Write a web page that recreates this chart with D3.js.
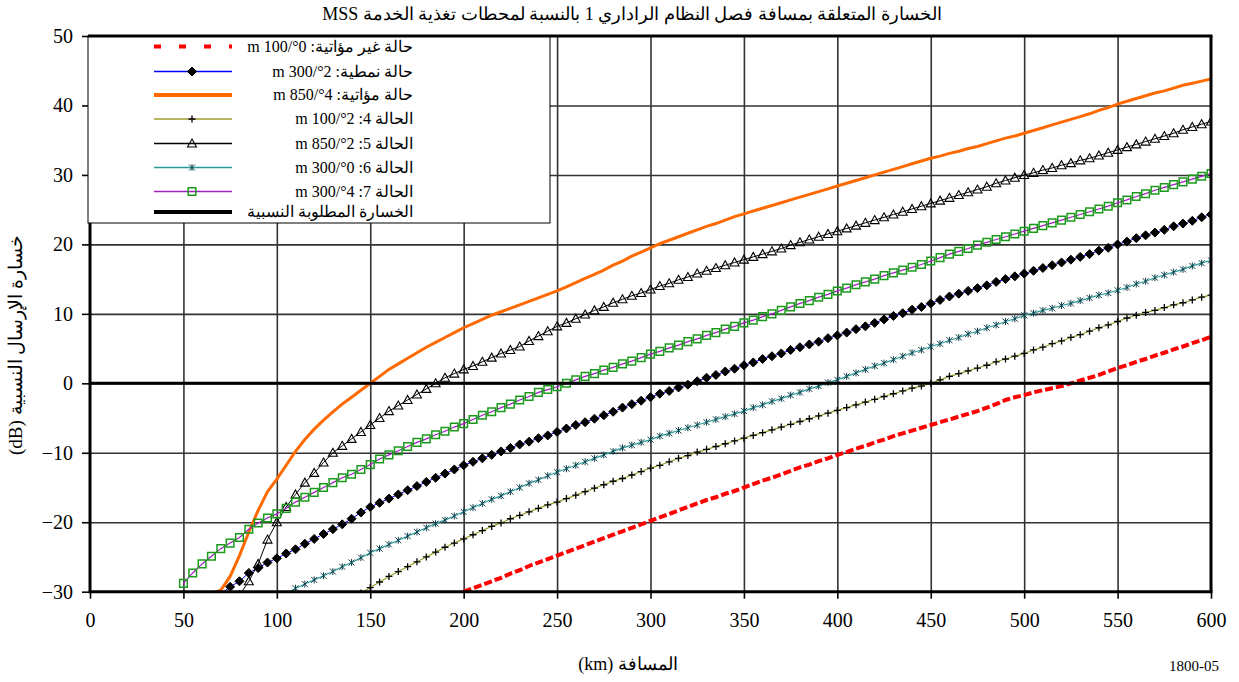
<!DOCTYPE html>
<html>
<head>
<meta charset="utf-8">
<script src="https://cdn.jsdelivr.net/npm/d3@7"></script>
<style>
  body { margin: 0; background: #fff; }
  svg { display: block; font-family: "Liberation Serif", "DejaVu Serif", serif; }
</style>
</head>
<body>
<svg></svg>
<script>
const width = 1239
const height = 682
const svg = d3.select('svg')
  .attr('width', width)
  .attr('height', height)

// distance axis samples (km)
const distanceKm = [
  50, 55, 60, 65, 70, 75, 80, 85, 90, 95,
  100, 105, 110, 115, 120, 125, 130, 135, 140, 145,
  150, 155, 160, 165, 170, 175, 180, 185, 190, 195,
  200, 205, 210, 215, 220, 225, 230, 235, 240, 245,
  250, 255, 260, 265, 270, 275, 280, 285, 290, 295,
  300, 305, 310, 315, 320, 325, 330, 335, 340, 345,
  350, 355, 360, 365, 370, 375, 380, 385, 390, 395,
  400, 405, 410, 415, 420, 425, 430, 435, 440, 445,
  450, 455, 460, 465, 470, 475, 480, 485, 490, 495,
  500, 505, 510, 515, 520, 525, 530, 535, 540, 545,
  550, 555, 560, 565, 570, 575, 580, 585, 590, 595,
  600
]

function lead(n, vals) { return new Array(n).fill(null).concat(vals) }

// relative loss (dB), one value per distance sample, null before the curve starts
const case1 = lead(30, [  // 0°/100 m, unfavourable
  -30.0, -29.5, -29.0, -28.5, -28.0, -27.4, -26.9, -26.3, -25.8, -25.3,
  -24.8, -24.3, -23.8, -23.3, -22.8, -22.3, -21.8, -21.3, -20.8, -20.3,
  -19.8, -19.3, -18.8, -18.3, -17.8, -17.3, -16.8, -16.4, -15.9, -15.5,
  -15.0, -14.5, -14.0, -13.6, -13.1, -12.6, -12.1, -11.7, -11.2, -10.8,
  -10.3, -9.9, -9.4, -9.0, -8.5, -8.1, -7.6, -7.2, -6.8, -6.4,
  -6.0, -5.6, -5.2, -4.8, -4.4, -4.0, -3.5, -3.0, -2.4, -2.0,
  -1.7, -1.3, -1.0, -0.7, -0.4, 0.0, 0.4, 0.8, 1.2, 1.7,
  2.2, 2.6, 3.1, 3.5, 4.0, 4.4, 4.9, 5.3, 5.8, 6.2,
  6.7])
const case2 = lead(4, [  // 2°/300 m, typical
  -30.3, -29.3, -28.5, -27.3, -26.6, -25.8,
  -25.2, -24.5, -23.9, -23.1, -22.4, -21.7, -21.0, -20.3, -19.5, -18.6,
  -17.8, -17.2, -16.6, -16.0, -15.4, -14.8, -14.2, -13.6, -13.0, -12.4,
  -11.8, -11.3, -10.8, -10.3, -9.8, -9.3, -8.8, -8.4, -7.9, -7.5,
  -7.0, -6.5, -6.0, -5.6, -5.1, -4.6, -4.1, -3.5, -3.0, -2.5,
  -2.0, -1.5, -1.1, -0.6, -0.2, 0.3, 0.8, 1.2, 1.7, 2.1,
  2.6, 3.0, 3.5, 3.9, 4.3, 4.8, 5.2, 5.6, 6.0, 6.5,
  6.9, 7.3, 7.8, 8.2, 8.7, 9.2, 9.7, 10.1, 10.6, 11.0,
  11.5, 12.0, 12.5, 12.9, 13.3, 13.7, 14.1, 14.6, 15.0, 15.4,
  15.8, 16.2, 16.6, 17.0, 17.4, 17.8, 18.2, 18.6, 19.1, 19.5,
  20.0, 20.4, 20.9, 21.3, 21.7, 22.1, 22.6, 23.0, 23.4, 23.9,
  24.3])
const case3 = lead(3, [  // 4°/850 m, favourable
  -30.2, -29.8, -27.8, -24.8, -21.4, -18.3, -15.6,
  -13.8, -11.8, -9.8, -8.1, -6.6, -5.3, -4.1, -3.0, -2.0, -1.0,
  0.0, 1.0, 2.0, 2.8, 3.6, 4.4, 5.2, 5.9, 6.6, 7.3,
  8.0, 8.6, 9.2, 9.8, 10.3, 10.8, 11.3, 11.8, 12.3, 12.8,
  13.3, 13.9, 14.5, 15.1, 15.7, 16.3, 17.0, 17.6, 18.3, 18.9,
  19.5, 20.1, 20.6, 21.1, 21.6, 22.1, 22.6, 23.0, 23.5, 24.0,
  24.4, 24.8, 25.2, 25.6, 26.0, 26.4, 26.8, 27.2, 27.6, 28.0,
  28.4, 28.8, 29.2, 29.6, 30.0, 30.4, 30.8, 31.2, 31.6, 32.0,
  32.4, 32.7, 33.1, 33.4, 33.8, 34.1, 34.5, 34.9, 35.3, 35.6,
  36.0, 36.4, 36.8, 37.2, 37.6, 38.0, 38.4, 38.8, 39.3, 39.7,
  40.2, 40.6, 41.0, 41.4, 41.8, 42.1, 42.5, 42.9, 43.2, 43.5,
  43.8])
const case4 = lead(19, [  // 2°/100 m
  -30.2,
  -29.4, -28.6, -27.8, -27.1, -26.4, -25.7, -25.0, -24.3, -23.6, -23.0,
  -22.4, -21.8, -21.2, -20.6, -20.1, -19.5, -19.0, -18.5, -18.0, -17.5,
  -17.1, -16.6, -16.1, -15.6, -15.1, -14.6, -14.1, -13.7, -13.2, -12.7,
  -12.2, -11.8, -11.3, -10.8, -10.4, -9.9, -9.5, -9.1, -8.7, -8.3,
  -7.9, -7.5, -7.1, -6.7, -6.3, -5.9, -5.5, -5.1, -4.7, -4.3,
  -3.9, -3.5, -3.1, -2.7, -2.3, -1.9, -1.5, -1.1, -0.7, -0.4,
  0.0, 0.5, 1.0, 1.4, 1.8, 2.2, 2.6, 3.1, 3.5, 3.9,
  4.3, 4.8, 5.2, 5.7, 6.1, 6.6, 7.0, 7.5, 8.0, 8.4,
  8.9, 9.4, 9.8, 10.2, 10.5, 10.9, 11.3, 11.6, 12.0, 12.4,
  12.7])
const case5 = lead(6, [  // 2°/850 m
  -30.5, -28.5, -26.0, -22.5,
  -20.0, -17.8, -16.0, -14.3, -12.9, -11.4, -10.0, -9.0, -8.0, -7.0,
  -6.0, -5.0, -4.0, -3.2, -2.4, -1.6, -0.8, 0.0, 0.8, 1.4,
  2.0, 2.5, 3.1, 3.7, 4.3, 4.8, 5.3, 6.1, 6.8, 7.5,
  8.2, 8.7, 9.3, 9.9, 10.5, 11.0, 11.6, 12.1, 12.6, 13.0,
  13.5, 14.0, 14.4, 14.9, 15.3, 15.8, 16.2, 16.6, 17.0, 17.4,
  17.8, 18.2, 18.6, 19.0, 19.4, 19.9, 20.3, 20.7, 21.1, 21.5,
  21.9, 22.3, 22.7, 23.1, 23.5, 23.9, 24.3, 24.7, 25.1, 25.5,
  25.9, 26.3, 26.7, 27.1, 27.5, 27.9, 28.3, 28.8, 29.2, 29.6,
  30.0, 30.3, 30.7, 31.0, 31.4, 31.7, 32.1, 32.4, 32.8, 33.2,
  33.6, 34.0, 34.4, 34.8, 35.2, 35.6, 36.0, 36.5, 36.9, 37.3,
  37.7])
const case6 = lead(11, [  // 0°/300 m
  -30.3, -29.5, -28.9, -28.3, -27.7, -27.1, -26.4, -25.8, -25.1,
  -24.4, -23.8, -23.2, -22.6, -22.0, -21.4, -20.8, -20.2, -19.7, -19.1,
  -18.5, -17.9, -17.3, -16.7, -16.2, -15.6, -15.0, -14.4, -13.9, -13.3,
  -12.8, -12.3, -11.8, -11.3, -10.8, -10.3, -9.8, -9.3, -8.9, -8.5,
  -8.1, -7.6, -7.2, -6.8, -6.4, -6.0, -5.6, -5.2, -4.8, -4.4,
  -4.0, -3.5, -3.1, -2.6, -2.2, -1.7, -1.3, -0.8, -0.4, 0.1,
  0.5, 1.0, 1.5, 2.0, 2.5, 2.9, 3.4, 3.9, 4.4, 4.8,
  5.3, 5.7, 6.2, 6.6, 7.1, 7.5, 8.0, 8.4, 8.9, 9.3,
  9.8, 10.1, 10.5, 10.8, 11.2, 11.5, 11.9, 12.3, 12.7, 13.0,
  13.4, 13.8, 14.3, 14.7, 15.2, 15.6, 16.0, 16.4, 16.9, 17.3,
  17.7])
const case7 = [  // 4°/300 m
  -28.8, -27.3, -26.0, -24.9, -23.8, -23.0, -22.2, -21.0, -20.1, -19.4,
  -18.8, -18.0, -17.1, -16.4, -15.7, -15.0, -14.3, -13.6, -13.1, -12.4,
  -11.7, -10.9, -10.3, -9.7, -9.1, -8.5, -8.0, -7.4, -6.9, -6.3,
  -5.8, -5.2, -4.6, -4.1, -3.5, -3.0, -2.4, -1.9, -1.3, -0.9,
  -0.5, 0.0, 0.5, 1.0, 1.4, 1.9, 2.3, 2.8, 3.2, 3.7,
  4.2, 4.6, 5.1, 5.5, 6.0, 6.4, 6.9, 7.3, 7.8, 8.2,
  8.7, 9.1, 9.6, 10.0, 10.5, 11.0, 11.5, 11.9, 12.4, 12.8,
  13.3, 13.7, 14.2, 14.6, 15.0, 15.5, 15.9, 16.3, 16.7, 17.1,
  17.6, 18.1, 18.6, 19.0, 19.4, 19.9, 20.3, 20.7, 21.1, 21.5,
  21.9, 22.3, 22.7, 23.1, 23.5, 23.9, 24.3, 24.7, 25.1, 25.5,
  26.0, 26.4, 26.9, 27.3, 27.8, 28.2, 28.6, 29.0, 29.4, 29.8,
  30.2]

// required relative loss: flat at 0 dB
const requiredKm = [0, 600]
const requiredDb = [0, 0]

const xTicks = [0, 50, 100, 150, 200, 250, 300, 350, 400, 450, 500, 550, 600]
const yTicks = [-30, -20, -10, 0, 10, 20, 30, 40, 50]

const legendLabels = [
  'حالة غير مؤاتية: 0°/100 m',
  'حالة نمطية: 2°/300 m',
  'حالة مؤاتية: 4°/850 m',
  'الحالة 4: 2°/100 m',
  'الحالة 5: 2°/850 m',
  'الحالة 6: 0°/300 m',
  'الحالة 7: 4°/300 m',
  'الخسارة المطلوبة النسبية'
]

// plot box ("top" is taken by window.top, so use other names)
var pLeft = 90, pRight = 1211, pTop = 36, pBottom = 591.7

var x = d3.scaleLinear().domain([0, 600]).range([pLeft, pRight])
var y = d3.scaleLinear().domain([-30, 50]).range([pBottom, pTop])

var markerPaths = {
  diamond: 'M0,-4.5L4.5,0L0,4.5L-4.5,0Z',
  plus: 'M-3.5,0H3.5M0,-3.5V3.5',
  triangle: 'M0,-4.5L4.5,3.5H-4.5Z',
  star: 'M-3,-3L3,3M-3,3L3,-3M0,-3.5V3.5',
  square: 'M-3.8,-3.8H3.8V3.8H-3.8Z'
}

var series = [
  {values: case1, color: '#ff0000', width: 4, dash: '8,3', marker: null},
  {values: case2, color: '#0000ff', width: 1, dash: null, marker: 'diamond', mFill: '#000', mStroke: '#000', mWidth: 1},
  {values: case3, color: '#ff6a00', width: 3, dash: null, marker: null},
  {values: case4, color: '#9c9c2e', width: 1.2, dash: null, marker: 'plus', mFill: 'none', mStroke: '#000', mWidth: 1.3},
  {values: case5, color: '#000', width: 1, dash: null, marker: 'triangle', mFill: 'none', mStroke: '#000', mWidth: 1.1},
  {values: case6, color: '#2a9a9a', width: 1.2, dash: null, marker: 'star', mFill: 'none', mStroke: '#0e3f4a', mWidth: 1},
  {values: case7, color: '#a020c0', width: 1.2, dash: null, marker: 'square', mFill: 'none', mStroke: '#1a9a1a', mWidth: 1.5}
]

// title
svg.append('text')
  .attr('x', 632).attr('y', 20)
  .attr('text-anchor', 'middle')
  .attr('direction', 'rtl')
  .style('font-size', '18px')
  .text('الخسارة المتعلقة بمسافة فصل النظام الراداري 1 بالنسبة لمحطات تغذية الخدمة MSS')

// grid
svg.append('g')
  .attr('transform', 'translate(0,' + pBottom + ')')
  .call(d3.axisBottom(x).tickValues(xTicks.slice(1, -1)).tickSize(-(pBottom - pTop)).tickFormat(''))
  .call(g => g.select('.domain').remove())
  .selectAll('line').attr('stroke', '#333').attr('stroke-width', 1.6)

svg.append('g')
  .attr('transform', 'translate(' + pLeft + ',0)')
  .call(d3.axisLeft(y).tickValues(yTicks.slice(1, -1)).tickSize(-(pRight - pLeft)).tickFormat(''))
  .call(g => g.select('.domain').remove())
  .selectAll('line').attr('stroke', '#333').attr('stroke-width', 1.6)

// axes
var xAxis = svg.append('g')
  .attr('transform', 'translate(0,' + pBottom + ')')
  .call(d3.axisBottom(x).tickValues(xTicks).tickSize(7).tickPadding(14))
xAxis.select('.domain').remove()
xAxis.selectAll('line').attr('stroke', '#000').attr('stroke-width', 1.6)
xAxis.selectAll('text').style('font-size', '20px').style('font-family', '"Liberation Serif", serif')

var yAxis = svg.append('g')
  .attr('transform', 'translate(' + pLeft + ',0)')
  .call(d3.axisLeft(y).tickValues(yTicks).tickSize(8).tickPadding(9))
yAxis.select('.domain').remove()
yAxis.selectAll('line').attr('stroke', '#000').attr('stroke-width', 1.6)
yAxis.selectAll('text').style('font-size', '20px').style('font-family', '"Liberation Serif", serif')

// series
svg.append('clipPath').attr('id', 'plotclip')
  .append('rect')
  .attr('x', pLeft).attr('y', pTop)
  .attr('width', pRight - pLeft).attr('height', pBottom - pTop)

var plot = svg.append('g').attr('clip-path', 'url(#plotclip)')

series.forEach(function(s) {
  var pts = distanceKm.map((d, i) => ({km: d, db: s.values[i]})).filter(d => d.db != null)
  var line = d3.line().x(d => x(d.km)).y(d => y(d.db))
  plot.append('path')
    .datum(pts)
    .attr('d', line)
    .attr('fill', 'none')
    .attr('stroke', s.color)
    .attr('stroke-width', s.width)
    .attr('stroke-dasharray', s.dash)
  if (s.marker) {
    plot.append('g')
      .selectAll('path')
      .data(pts)
      .enter()
      .append('path')
      .attr('transform', d => 'translate(' + x(d.km) + ',' + y(d.db) + ')')
      .attr('d', markerPaths[s.marker])
      .attr('fill', s.mFill)
      .attr('stroke', s.mStroke)
      .attr('stroke-width', s.mWidth)
  }
})

var req = requiredKm.map((d, i) => ({km: d, db: requiredDb[i]}))
plot.append('path')
  .datum(req)
  .attr('d', d3.line().x(d => x(d.km)).y(d => y(d.db)))
  .attr('stroke', '#000')
  .attr('stroke-width', 3)

// frame
svg.append('line').attr('x1', pLeft).attr('x2', pLeft).attr('y1', pTop).attr('y2', pBottom + 1.5)
  .attr('stroke', '#000').attr('stroke-width', 3)
svg.append('line').attr('x1', pLeft).attr('x2', pRight + 1.5).attr('y1', pBottom).attr('y2', pBottom)
  .attr('stroke', '#000').attr('stroke-width', 3)
svg.append('line').attr('x1', pRight).attr('x2', pRight).attr('y1', pTop).attr('y2', pBottom)
  .attr('stroke', '#000').attr('stroke-width', 3)

// legend
var legend = svg.append('g')
legend.append('rect')
  .attr('x', 88).attr('y', pTop).attr('width', 462).attr('height', 187)
  .attr('fill', '#fff').attr('stroke', '#000').attr('stroke-width', 1)

var legendStyles = series.concat([{color: '#000', width: 4, dash: null, marker: null}])
var rowY = [46.5, 71.5, 95, 119, 143.5, 167.5, 191.5, 212]
legendStyles.forEach(function(s, i) {
  var yy = rowY[i]
  legend.append('line')
    .attr('x1', 154).attr('x2', 232).attr('y1', yy).attr('y2', yy)
    .attr('stroke', s.color)
    .attr('stroke-width', i == 0 ? 4 : (s.width > 2 ? 4 : 1.5))
    .attr('stroke-dasharray', i == 0 ? '7,18' : null)
  if (s.marker) {
    legend.append('path')
      .attr('transform', 'translate(192,' + yy + ')')
      .attr('d', markerPaths[s.marker])
      .attr('fill', s.mFill)
      .attr('stroke', s.mStroke)
      .attr('stroke-width', s.mWidth)
  }
  legend.append('text')
    .attr('x', 413).attr('y', yy + 5)
    .attr('direction', 'rtl')
    .attr('text-anchor', 'start')
    .style('font-size', '16px')
    .text(legendLabels[i])
})

svg.append('line').attr('x1', 88).attr('x2', pRight + 1.5).attr('y1', pTop).attr('y2', pTop)
  .attr('stroke', '#000').attr('stroke-width', 3)

// axis titles
svg.append('text')
  .attr('transform', 'translate(22,' + 345 + ') rotate(-90)')
  .attr('text-anchor', 'middle')
  .attr('direction', 'rtl')
  .style('font-size', '19px')
  .text('خسارة الإرسال النسبية (dB)')

svg.append('text')
  .attr('x', 628).attr('y', 670)
  .attr('text-anchor', 'middle')
  .attr('direction', 'rtl')
  .style('font-size', '18px')
  .text('المسافة (km)')

svg.append('text')
  .attr('x', 1194).attr('y', 671)
  .attr('text-anchor', 'middle')
  .style('font-size', '15px')
  .text('1800-05')
</script>
</body>
</html>
